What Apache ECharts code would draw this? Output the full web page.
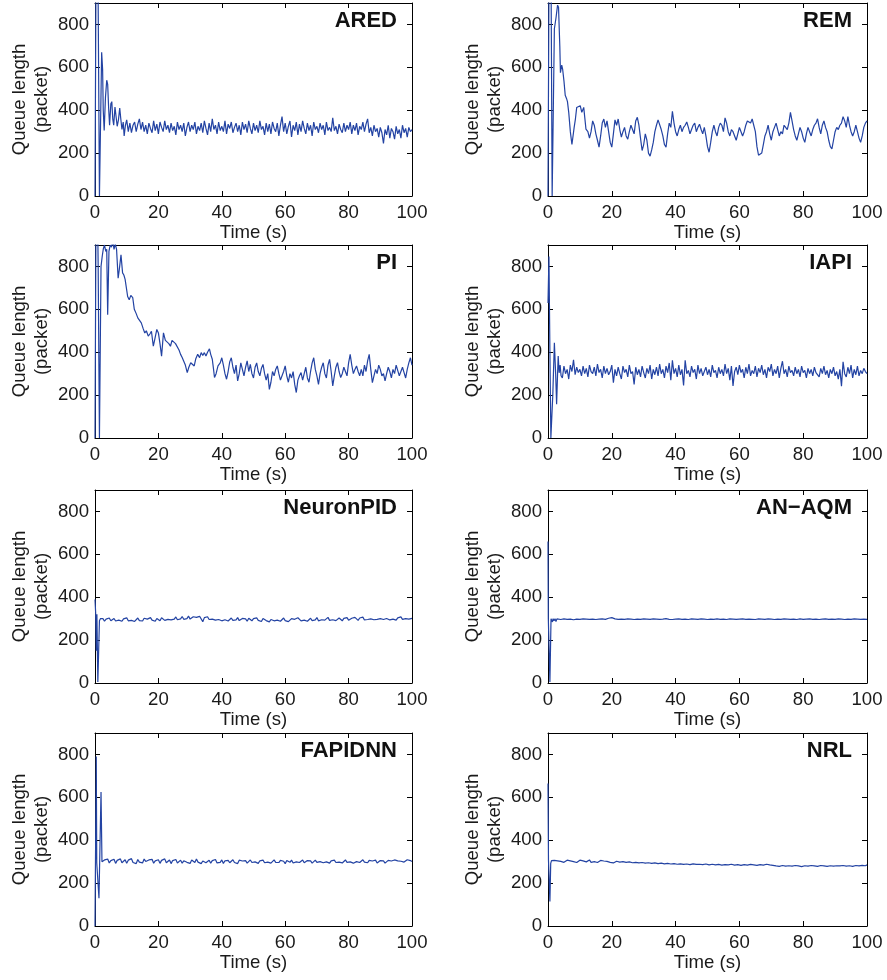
<!DOCTYPE html>
<html><head><meta charset="utf-8">
<script src="https://cdn.jsdelivr.net/npm/echarts@6/dist/echarts.min.js"></script>
<style>html,body{margin:0;padding:0;background:#fff}#c{width:887px;height:980px}</style>
</head><body><div id="c"></div>
<script>
// ---------- data ----------
const panelNames = ['ARED', 'REM', 'PI', 'IAPI', 'NeuronPID', 'AN\u2212AQM', 'FAPIDNN', 'NRL'];
const xTickLabels = ['0', '20', '40', '60', '80', '100'];
const yTickLabels = ['0', '200', '400', '600', '800'];

// ARED
const aredTrT = [0,0.3,0.6,1.0,1.4,1.7,2.1,2.4,2.6,2.9,3.3,3.7,4.0,4.3,4.6,5.0,5.3,5.6,5.9,6.3,6.7,7.0,7.4,7.8,8.1,8.5,8.9,9.2,9.6];
const aredTrQ = [0,1000,1300,900,0,0,670,590,400,305,460,540,520,410,330,430,440,360,330,415,420,325,355,410,365,310,345,280,330];
const aredStart = 10, aredStep = 0.5;
const aredVals = [
355,300,340,295,330,345,300,335,360,310,
345,300,330,290,340,315,295,350,305,335,
290,345,320,300,350,310,330,295,340,305,
325,285,345,310,330,300,340,280,320,345,
300,330,310,345,290,325,305,340,295,350,
315,285,340,300,360,310,330,290,345,305,
325,300,350,290,335,315,345,295,320,340,
300,330,285,345,310,335,295,350,315,290,
340,305,330,295,350,310,325,285,340,300,
335,290,345,315,300,340,280,330,370,300,
340,290,325,350,275,330,305,345,285,335,
300,350,315,290,340,305,330,280,345,310,
325,295,340,310,330,285,345,305,320,300,
365,305,325,290,335,310,295,340,300,330,
310,345,290,330,305,340,285,325,310,345,
300,335,360,295,320,280,330,300,315,275,
320,295,245,310,285,330,270,315,300,265,
325,290,310,270,330,295,315,275,320,300,
310];

// REM
const remTrT = [0,0.3,0.7,1.0,1.3,1.6,2.0,2.5,3.0,3.3,3.7,3.9,4.3,4.6,5.0,5.4,5.8,6.1,6.5,7.0,7.5,7.8,8.2,8.6,9.0,9.5,10.1,10.6,11.2,11.9,12.5];
const remTrQ = [0,1000,1400,900,0,0,780,830,890,880,700,575,610,590,537,470,455,440,390,300,240,235,320,360,413,420,421,390,413,312,300];
const remStart = 13, remStep = 0.5;
const remVals = [
270,300,350,330,290,260,228,280,340,359,
320,350,300,250,228,290,355,330,359,310,
275,300,320,280,265,300,330,310,290,350,
367,330,270,212,240,290,260,200,186,215,
250,300,330,355,350,310,280,240,228,290,
340,320,395,340,300,280,310,330,300,320,
330,345,320,290,310,330,340,300,320,335,
310,290,320,280,230,204,250,300,330,300,
280,320,340,330,300,364,340,300,280,310,
300,280,260,290,320,300,280,300,330,350,
355,340,359,350,300,230,190,181,200,240,
280,300,330,290,260,300,320,340,310,280,
300,290,330,320,310,340,390,350,310,280,
260,290,320,300,270,250,290,320,300,280,
310,330,340,360,320,290,330,350,320,300,
260,230,220,260,300,320,310,330,340,370,
350,320,370,330,300,280,300,330,300,270,
250,280,320,340,350];

// PI
const piTrT = [0,0.3,0.6,1.0,1.4,1.7,1.9,2.3,2.6,3.0,3.4,3.7,4.0,4.4,4.8,5.2,5.6,6.0,6.4,6.8,7.3,7.7,8.2,8.7,9.1,9.5,10.0,10.3,10.8,11.3,11.9,12.4,13.0,13.5,14.0,14.6,15.2,15.7,16.2,16.8,17.3,17.8,18.4,19.0,19.5,20.0,20.5,21.0,21.6,22.2,22.7,23.3,23.8,24.3,24.8,25.4,25.9,26.5,27.0,27.5,28.0,28.5,29.1,29.6,30.2,30.7,31.3,31.8,32.4,33.0,33.5,34.0,34.5,35.0,35.5,36.1,36.5,37.0,37.4,37.7,38.2,38.8];
const piTrQ = [0,1000,1300,800,0,0,800,850,880,900,870,880,575,870,900,890,920,880,905,880,745,790,854,770,760,740,745,660,645,665,655,600,580,560,555,537,510,490,500,475,485,498,428,470,506,490,440,382,490,455,460,440,428,455,460,440,444,410,390,375,367,340,305,330,351,345,336,370,390,375,398,385,398,382,400,416,390,367,320,282,300,336];
const piStart = 39.5, piStep = 0.5;
const piVals = [
350,374,340,300,274,310,355,374,330,300,
340,266,300,350,320,290,330,360,310,343,
300,280,330,350,310,290,325,343,300,270,
300,227,260,310,290,320,336,300,270,290,
310,336,290,260,300,280,310,250,212,270,
290,305,270,300,330,280,260,310,350,374,
320,290,250,300,330,351,300,280,340,367,
310,243,290,330,351,310,282,300,330,310,
290,350,390,340,300,320,336,310,290,320,
290,340,310,360,390,320,258,290,320,300,
340,320,290,300,266,300,330,310,280,320,
300,340,336,290,310,330,305,280,320,350,
374,340];

// IAPI
const iapiTrT = [0,0.3,0.6,0.9,1.2,1.5,2.0,2.4,2.7,3.0,3.2,3.5,3.8,4.1];
const iapiTrQ = [630,846,400,0,0,200,444,300,158,300,382,304,340,290];
const iapiStart = 4.5, iapiStep = 0.5;
const iapiVals = [
280,335,300,320,275,340,310,365,295,330,
305,320,290,335,300,325,285,340,310,300,
330,290,345,305,320,280,335,300,325,295,
310,340,258,320,290,330,300,275,335,305,
320,285,340,300,310,250,330,295,320,285,
335,305,280,325,300,340,275,320,295,330,
290,345,300,320,280,335,305,350,270,362,
300,325,285,340,295,320,245,362,300,315,
285,335,305,320,275,340,300,325,290,310,
330,295,320,285,340,305,315,280,330,300,
320,290,345,300,325,270,335,243,310,330,
295,340,305,320,280,330,300,345,290,315,
300,335,285,325,305,340,295,320,280,330,
310,345,290,320,300,335,280,325,358,300,
320,285,335,305,315,290,330,300,320,285,
335,305,315,280,325,300,320,290,330,305,
310,285,325,300,335,295,315,280,320,300,
330,290,310,275,320,242,355,300,285,330,
300,340,280,320,295,335,290,315,300,325,
310,300];

// NeuronPID
const npidTrT = [0,0.2,0.4,0.6,0.9,1.2,1.4,1.7];
const npidTrQ = [390,330,150,320,5,5,290,300];
const npidStart = 2, npidStep = 0.5;
const npidVals = [
295,300,288,298,292,303,290,296,301,289,
297,293,302,288,299,294,304,290,298,292,
300,287,296,303,291,299,289,302,294,298,
291,305,293,299,288,301,295,290,304,296,
292,300,297,306,294,301,298,308,295,303,
299,310,297,305,300,312,298,304,309,301,
306,297,311,302,286,305,299,309,296,303,
298,306,293,301,296,304,290,299,295,302,
289,298,303,292,300,294,305,291,297,301,
293,299,288,302,295,290,300,294,304,292,
298,287,301,295,291,299,285,296,302,290,
297,293,300,288,295,303,291,298,286,294,
300,292,297,289,304,295,290,299,293,301,
288,296,302,291,298,294,305,290,299,295,
301,293,298,306,292,300,295,304,291,298,
303,296,290,301,297,305,293,299,302,295,
306,298,292,303,299,307,294,300,296,304,
299,308,295,302,297,305,300,309,296,303,
301,307,294,302,298,306,293,304,299,308,
297,305,300,307,298,304,301];

// AN-AQM
const anTrT = [0,0.1,0.5,0.6,0.85,0.95,1.2,1.4,1.6,1.9,2.2,2.5,2.8];
const anTrQ = [660,300,300,5,5,300,296,285,300,290,300,287,299];
const anStart = 3, anStep = 1;
const anVals = [
298,296,299,297,298,295,298,297,299,298,
297,298,296,298,299,297,302,305,299,297,
298,297,299,298,296,298,297,299,298,297,
299,298,297,298,300,297,296,298,299,297,
298,296,299,298,297,299,298,296,298,297,
299,297,298,296,299,298,297,298,299,297,
298,297,296,299,298,297,299,298,296,298,
297,299,298,297,298,296,299,297,298,299,
297,298,296,298,299,297,298,297,299,298,
296,298,297,299,298,297,298,297];

// FAPIDNN
const fapTrT = [0,0.4,0.55,0.9,1.25,1.9,2.2];
const fapTrQ = [0,790,295,290,130,625,300];
const fapStart = 2.5, fapStep = 0.5;
const fapVals = [
296,308,299,312,294,305,298,311,292,306,
300,313,295,304,309,293,307,299,314,296,
305,291,310,298,306,294,312,301,295,308,
299,311,293,304,300,309,292,306,298,313,
295,303,308,291,305,299,310,294,302,307,
293,304,311,297,305,292,308,300,296,312,
298,306,291,303,309,295,301,307,293,305,
300,310,294,303,297,308,292,304,299,306,
295,302,309,296,304,291,307,300,303,297,
305,293,301,308,296,303,299,306,292,304,
300,307,295,302,298,305,293,301,308,297,
303,296,306,299,302,291,305,300,297,307,
294,303,299,306,296,302,308,295,301,305,
298,304,293,302,307,297,303,300,306,295,
302,299,305,293,304,300,307,296,303,298,
305,294,301,308,297,303,299,306,293,302,
300,305,296,303,309,298,302,295,306,300,
303,297,307,294,302,305,298,304,293,301,
306,299,303,296,308,300,304,297,302,306,
298,303,309,300,305,301];

// NRL
const nrlTrT = [0,0.15,0.6,0.85,1.1];
const nrlTrQ = [665,307,114,292,305];
const nrlStart = 1.5, nrlStep = 0.5;
const nrlVals = [
300,306,298,304,309,301,305,297,303,307,
299,304,308,300,305,296,303,307,298,304,
306,299,302,308,297,303,300,305,296,302,
306,298,303,295,301,304,297,300,294,299,
302,293,298,296,300,291,297,294,299,290,
295,292,297,289,294,291,296,288,293,290,
295,287,292,289,294,286,291,288,293,285,
290,287,292,284,289,286,291,283,288,285,
290,282,287,285,289,281,286,284,290,282,
287,283,288,280,286,284,289,281,285,283,
288,280,285,282,287,279,284,282,286,280,
285,283,288,279,284,281,286,278,283,281,
286,279,284,282,287,280,285,277,283,281,
286,279,284,282,288,280,285,278,283,286,
280,284,278,285,282,287,279,284,281,286,
279,284,282,288,280,285,277,283,281,286,
279,284,282,287,280,285,278,284,282,287,
280,285,278,284,281,286,279,283,281,287,
280,285,282,288,279,284,281,286,278,283,
282,287,280,285,283,288,281,285];

// ---------- build ----------
function build(trT, trQ, start, step, vals) {
  const d = trT.map((t, i) => [t, trQ[i]]);
  vals.forEach((v, i) => d.push([+(start + i * step).toFixed(3), v]));
  return d;
}
const seriesData = [
  build(aredTrT, aredTrQ, aredStart, aredStep, aredVals),
  build(remTrT, remTrQ, remStart, remStep, remVals),
  build(piTrT, piTrQ, piStart, piStep, piVals),
  build(iapiTrT, iapiTrQ, iapiStart, iapiStep, iapiVals),
  build(npidTrT, npidTrQ, npidStart, npidStep, npidVals),
  build(anTrT, anTrQ, anStart, anStep, anVals),
  build(fapTrT, fapTrQ, fapStart, fapStep, fapVals),
  build(nrlTrT, nrlTrQ, nrlStart, nrlStep, nrlVals)
];

const FONT = '"Liberation Sans", Arial, Helvetica, sans-serif';
const TXT = '#1a1a1a';
const LINE = '#2343a3';
const FS = 18.6;
const colLeft = [95, 548], colWidth = [317, 319];
const rowTop = [3, 245, 490, 733], rowH = 193;

const grids = [], xAxes = [], yAxes = [], series = [], graphics = [];
panelNames.forEach((name, i) => {
  const r = Math.floor(i / 2), c = i % 2;
  grids.push({ left: colLeft[c], top: rowTop[r], width: colWidth[c], height: rowH, show: false });
  const axLine = { show: true, onZero: false, lineStyle: { color: '#000', width: 1 } };
  const tick = { show: true, inside: true, length: 5, lineStyle: { color: '#000', width: 1 } };
  xAxes.push({
    type: 'value', gridIndex: i, min: 0, max: 100, interval: 20, position: 'bottom',
    axisLine: axLine, axisTick: tick, splitLine: { show: false },
    axisLabel: { show: true, margin: 8, fontSize: FS, lineHeight: 18, fontFamily: FONT, color: TXT,
      formatter: v => xTickLabels.includes(String(v)) ? String(v) : '' },
    name: 'Time (s)', nameLocation: 'middle', nameGap: 28,
    nameTextStyle: { fontSize: FS, lineHeight: 18, fontFamily: FONT, color: TXT }
  });
  xAxes.push({
    type: 'value', gridIndex: i, min: 0, max: 100, interval: 20, position: 'top',
    axisLine: axLine, axisTick: tick, splitLine: { show: false }, axisLabel: { show: false }
  });
  yAxes.push({
    type: 'value', gridIndex: i, min: 0, max: 900, interval: 200, position: 'left',
    axisLine: axLine, axisTick: tick, splitLine: { show: false },
    axisLabel: { show: true, margin: 6, fontSize: FS, fontFamily: FONT, color: TXT, showMaxLabel: false,
      formatter: v => yTickLabels.includes(String(v)) ? String(v) : '' },
    name: 'Queue length\n(packet)', nameLocation: 'middle', nameGap: 42, nameRotate: 90,
    nameTextStyle: { fontSize: FS, lineHeight: 22, fontFamily: FONT, color: TXT, align: 'center' }
  });
  yAxes.push({
    type: 'value', gridIndex: i, min: 0, max: 900, interval: 200, position: 'right',
    axisLine: axLine, axisTick: tick, splitLine: { show: false }, axisLabel: { show: false }
  });
  series.push({
    type: 'line', xAxisIndex: 2 * i, yAxisIndex: 2 * i, data: seriesData[i],
    showSymbol: false, symbol: 'none', clip: true, silent: true,
    lineStyle: { color: LINE, width: 1.2 }
  });
  graphics.push({
    type: 'text', x: colLeft[c] + colWidth[c] - 15, y: rowTop[r] + 18,
    style: { text: name, fontSize: 22, fontWeight: 'bold', fontFamily: FONT, fill: '#111',
      textAlign: 'right', textVerticalAlign: 'middle' }
  });
});

const chart = echarts.init(document.getElementById('c'), null, { renderer: 'canvas' });
chart.setOption({
  animation: false,
  backgroundColor: '#fff',
  grid: grids, xAxis: xAxes, yAxis: yAxes, series: series, graphic: graphics
});
</script>
</body></html>
